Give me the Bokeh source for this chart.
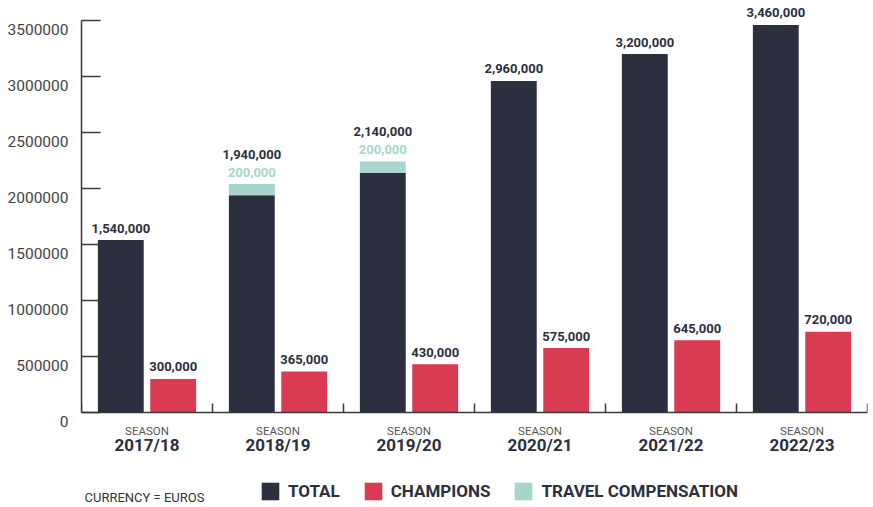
from bokeh.plotting import figure
from bokeh.models import (Range1d, LinearAxis, FixedTicker, ColumnDataSource,
                          Legend, LegendItem, Label)
from bokeh.core.properties import value
from bokeh.embed import file_html
from bokeh.resources import INLINE

# ---------------- data ----------------
seasons = ["2017/18", "2018/19", "2019/20", "2020/21", "2021/22", "2022/23"]
season_word = "SEASON"
total = [1540000, 1940000, 2140000, 2960000, 3200000, 3460000]
champions = [300000, 365000, 430000, 575000, 645000, 720000]
travel = [0, 200000, 200000, 0, 0, 0]            # labelled travel compensation
travel_drawn = [0, 100000, 100000, 0, 0, 0]      # segment height as drawn in the reference
y_ticks = [0, 500000, 1000000, 1500000, 2000000, 2500000, 3000000, 3500000]
y_tick_labels = ["0", "500000", "1000000", "1500000", "2000000", "2500000", "3000000", "3500000"]
legend_labels = ["TOTAL", "CHAMPIONS", "TRAVEL COMPENSATION"]
currency_note = "CURRENCY = EUROS"

# ---------------- style / geometry ----------------
NAVY = "#2b2f3e"
RED = "#d93b53"
TEAL = "#a6d6cc"
AXIS = "#3a3a3a"
FONT = "Roboto"

W, H = 873, 507
LEFT, RIGHT = 81, 6
FRAME_W = W - LEFT - RIGHT
BASE_PX = 412            # pixel row of value 0
PX_PER_UNIT = 112 / 1e6  # pixels per euro
Y_START = -(H - BASE_PX) / PX_PER_UNIT
Y_END = BASE_PX / PX_PER_UNIT
LABEL_SHIFT = 9 / PX_PER_UNIT   # y tick labels sit 9px below their ticks

n = len(seasons)
p = figure(width=W, height=H, x_range=Range1d(0, n), y_range=Range1d(Y_START, Y_END),
           output_backend="svg", toolbar_location=None,
           x_axis_location=None, y_axis_location=None,
           min_border_left=LEFT, min_border_right=RIGHT,
           min_border_top=0, min_border_bottom=0,
           outline_line_color=None, background_fill_color="white",
           border_fill_color="white")
p.xgrid.grid_line_color = None
p.ygrid.grid_line_color = None
p.extra_y_ranges = {"lbl": Range1d(Y_START + LABEL_SHIFT, Y_END + LABEL_SHIFT)}


def px2x(px):
    return (px - LEFT) / FRAME_W * n


def py2y(py):
    return (BASE_PX - py) / PX_PER_UNIT


centers = [i + 0.5 for i in range(n)]
src = ColumnDataSource(dict(
    xt=[c - 0.2 for c in centers],
    xc=[c + 0.2 for c in centers],
    total=total,
    champ=champions,
    total_lbl=[f"{v:,}" for v in total],
    champ_lbl=[f"{v:,}" for v in champions],
    total_lbl_y=[t + d for t, d in zip(total, travel_drawn)],
    total_lbl_off=[-12 - (18 if d else 0) for d in travel_drawn],
))
tidx = [i for i in range(n) if travel[i] > 0]
tsrc = ColumnDataSource(dict(
    x=[centers[i] - 0.2 for i in tidx],
    bottom=[total[i] for i in tidx],
    top=[total[i] + travel_drawn[i] for i in tidx],
    lbl=[f"{travel[i]:,}" for i in tidx],
))

r_total = p.vbar(x="xt", top="total", bottom=0, width=0.35, source=src,
                 fill_color=NAVY, line_color=None)
r_champ = p.vbar(x="xc", top="champ", bottom=0, width=0.35, source=src,
                 fill_color=RED, line_color=None)
r_trav = p.vbar(x="x", top="top", bottom="bottom", width=0.35, source=tsrc,
                fill_color=TEAL, line_color=None)

common = dict(text_font=value(FONT), text_font_style="bold", text_font_size="13px",
              text_align="center", text_baseline="alphabetic")
p.text(x="xt", y="total_lbl_y", text="total_lbl", y_offset="total_lbl_off",
       source=src, text_color=NAVY, **common)
p.text(x="xc", y="champ", text="champ_lbl", y_offset=-12,
       source=src, text_color=NAVY, **common)
p.text(x="x", y="top", text="lbl", y_offset=-12,
       source=tsrc, text_color=TEAL, **common)

# ---------------- axes ----------------
# y axis: line + inward ticks
yaxis = LinearAxis(
    ticker=FixedTicker(ticks=y_ticks, minor_ticks=[]),
    bounds=(0, 3500000),
    major_label_overrides={t: "" for t in y_ticks},
    axis_line_color=AXIS, axis_line_width=1.5,
    major_tick_line_color=AXIS, major_tick_line_width=1.5,
    major_tick_in=19, major_tick_out=0,
    minor_tick_line_color=None, minor_tick_in=0, minor_tick_out=0,
    major_label_standoff=0,
)
p.add_layout(yaxis, "left")
# y tick labels (drawn slightly below their ticks, as in the reference)
ylab = LinearAxis(
    y_range_name="lbl",
    ticker=FixedTicker(ticks=y_ticks, minor_ticks=[]),
    major_label_overrides={t: l for t, l in zip(y_ticks, y_tick_labels)},
    axis_line_color=None, major_tick_line_color=None, minor_tick_line_color=None,
    major_tick_in=0, major_tick_out=0, minor_tick_in=0, minor_tick_out=0,
    major_label_standoff=13,
    major_label_text_font=FONT, major_label_text_font_size="15.5px",
    major_label_text_color="#444444",
)
p.add_layout(ylab, "left")

xa = LinearAxis(
    fixed_location=0,
    ticker=FixedTicker(ticks=centers, minor_ticks=list(range(n + 1))),
    major_label_overrides={c: season_word for c in centers},
    axis_line_color=AXIS, axis_line_width=1.5,
    major_tick_line_color=None, major_tick_in=0, major_tick_out=0,
    minor_tick_line_color=AXIS, minor_tick_line_width=1.5,
    minor_tick_in=9, minor_tick_out=0,
    major_label_standoff=11,
    major_label_text_font=FONT, major_label_text_font_size="11.5px",
    major_label_text_color="#555555",
)
p.add_layout(xa, "below")

xb = LinearAxis(
    fixed_location=0,
    ticker=FixedTicker(ticks=centers, minor_ticks=[]),
    major_label_overrides={c: s for c, s in zip(centers, seasons)},
    axis_line_color=None,
    major_tick_line_color=None, major_tick_in=0, major_tick_out=0,
    minor_tick_line_color=None, minor_tick_in=0, minor_tick_out=0,
    major_label_standoff=22,
    major_label_text_font=FONT, major_label_text_font_size="17px",
    major_label_text_font_style="bold", major_label_text_color=NAVY,
)
p.add_layout(xb, "below")

# ---------------- legend ----------------
legend = Legend(
    items=[LegendItem(label=legend_labels[0], renderers=[r_total]),
           LegendItem(label=legend_labels[1], renderers=[r_champ]),
           LegendItem(label=legend_labels[2], renderers=[r_trav])],
    location=(178, 5), orientation="horizontal",
    glyph_width=22, glyph_height=22, label_standoff=7, spacing=22,
    padding=0, margin=0, border_line_color=None, background_fill_alpha=0,
    label_text_font=FONT, label_text_font_style="bold",
    label_text_font_size="17px", label_text_color=NAVY,
)
p.add_layout(legend)

p.add_layout(Label(x=px2x(84), y=py2y(497), text=currency_note,
                   text_font=FONT, text_font_size="13px", text_color="#333333",
                   text_baseline="middle", text_align="left"))

open("out.html", "w").write(file_html(p, INLINE))
